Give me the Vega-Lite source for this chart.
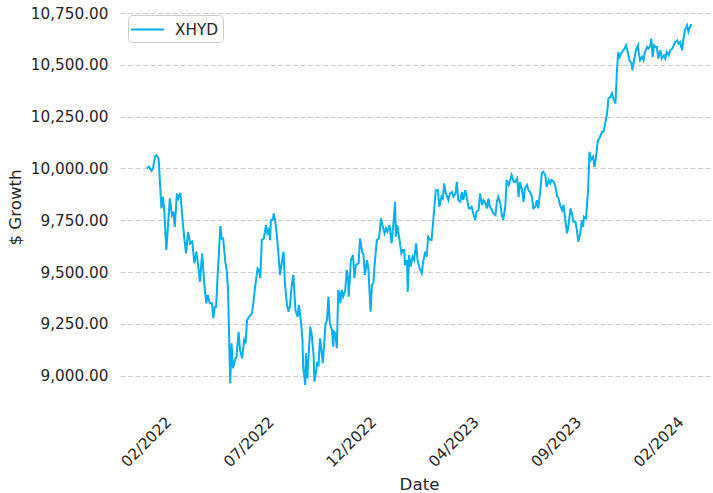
{
  "$schema": "https://vega.github.io/schema/vega-lite/v6.json",
  "width": 593,
  "height": 396,
  "autosize": {"type": "none"},
  "padding": {"left": 120, "top": 7, "right": 0, "bottom": 90},
  "background": "white",
  "config": {"view": {"stroke": null}, "font": "DejaVu Sans"},
  "data": {"values": [
    {"date": "2022-02-15", "value": 10000}, {"date": "2022-02-18", "value": 10008}, {"date": "2022-02-22", "value": 9988}, {"date": "2022-02-24", "value": 10000},
    {"date": "2022-02-27", "value": 10059}, {"date": "2022-03-01", "value": 10064}, {"date": "2022-03-04", "value": 10048}, {"date": "2022-03-06", "value": 9928},
    {"date": "2022-03-08", "value": 9807}, {"date": "2022-03-10", "value": 9863}, {"date": "2022-03-12", "value": 9799}, {"date": "2022-03-15", "value": 9606},
    {"date": "2022-03-17", "value": 9702}, {"date": "2022-03-20", "value": 9855}, {"date": "2022-03-23", "value": 9775}, {"date": "2022-03-25", "value": 9791},
    {"date": "2022-03-27", "value": 9718}, {"date": "2022-03-30", "value": 9879}, {"date": "2022-04-01", "value": 9855}, {"date": "2022-04-04", "value": 9882},
    {"date": "2022-04-08", "value": 9718}, {"date": "2022-04-12", "value": 9590}, {"date": "2022-04-15", "value": 9694}, {"date": "2022-04-18", "value": 9638},
    {"date": "2022-04-21", "value": 9646}, {"date": "2022-04-24", "value": 9542}, {"date": "2022-04-27", "value": 9598}, {"date": "2022-04-30", "value": 9510},
    {"date": "2022-05-02", "value": 9453}, {"date": "2022-05-05", "value": 9590}, {"date": "2022-05-08", "value": 9445}, {"date": "2022-05-11", "value": 9349},
    {"date": "2022-05-13", "value": 9389}, {"date": "2022-05-16", "value": 9349}, {"date": "2022-05-19", "value": 9349}, {"date": "2022-05-21", "value": 9277},
    {"date": "2022-05-23", "value": 9333}, {"date": "2022-05-25", "value": 9333}, {"date": "2022-05-27", "value": 9477}, {"date": "2022-05-31", "value": 9722},
    {"date": "2022-06-02", "value": 9660}, {"date": "2022-06-04", "value": 9662}, {"date": "2022-06-07", "value": 9550}, {"date": "2022-06-09", "value": 9510},
    {"date": "2022-06-11", "value": 9413}, {"date": "2022-06-14", "value": 8963}, {"date": "2022-06-16", "value": 9156}, {"date": "2022-06-18", "value": 9036},
    {"date": "2022-06-21", "value": 9076}, {"date": "2022-06-23", "value": 9092}, {"date": "2022-06-26", "value": 9212}, {"date": "2022-06-28", "value": 9124},
    {"date": "2022-07-01", "value": 9084}, {"date": "2022-07-04", "value": 9172}, {"date": "2022-07-06", "value": 9156}, {"date": "2022-07-08", "value": 9268},
    {"date": "2022-07-11", "value": 9284}, {"date": "2022-07-15", "value": 9301}, {"date": "2022-07-17", "value": 9349}, {"date": "2022-07-19", "value": 9413},
    {"date": "2022-07-23", "value": 9518}, {"date": "2022-07-25", "value": 9510}, {"date": "2022-07-27", "value": 9470}, {"date": "2022-07-29", "value": 9654},
    {"date": "2022-08-01", "value": 9662}, {"date": "2022-08-04", "value": 9727}, {"date": "2022-08-06", "value": 9687}, {"date": "2022-08-08", "value": 9703},
    {"date": "2022-08-10", "value": 9654}, {"date": "2022-08-11", "value": 9751}, {"date": "2022-08-14", "value": 9754}, {"date": "2022-08-15", "value": 9783},
    {"date": "2022-08-17", "value": 9751}, {"date": "2022-08-20", "value": 9662}, {"date": "2022-08-24", "value": 9486}, {"date": "2022-08-26", "value": 9534},
    {"date": "2022-08-29", "value": 9598}, {"date": "2022-08-31", "value": 9445}, {"date": "2022-09-03", "value": 9341}, {"date": "2022-09-05", "value": 9309},
    {"date": "2022-09-07", "value": 9333}, {"date": "2022-09-10", "value": 9445}, {"date": "2022-09-12", "value": 9486}, {"date": "2022-09-15", "value": 9317},
    {"date": "2022-09-18", "value": 9284}, {"date": "2022-09-20", "value": 9341}, {"date": "2022-09-23", "value": 9253}, {"date": "2022-09-25", "value": 9172},
    {"date": "2022-09-26", "value": 9043}, {"date": "2022-09-29", "value": 8955}, {"date": "2022-09-30", "value": 9108}, {"date": "2022-10-02", "value": 8987},
    {"date": "2022-10-06", "value": 9236}, {"date": "2022-10-08", "value": 9204}, {"date": "2022-10-11", "value": 9092}, {"date": "2022-10-12", "value": 8971},
    {"date": "2022-10-14", "value": 9011}, {"date": "2022-10-16", "value": 9060}, {"date": "2022-10-18", "value": 9052}, {"date": "2022-10-20", "value": 9180},
    {"date": "2022-10-22", "value": 9124}, {"date": "2022-10-24", "value": 9060}, {"date": "2022-10-26", "value": 9156}, {"date": "2022-10-28", "value": 9253},
    {"date": "2022-10-30", "value": 9268}, {"date": "2022-11-01", "value": 9381}, {"date": "2022-11-03", "value": 9253}, {"date": "2022-11-06", "value": 9220},
    {"date": "2022-11-08", "value": 9140}, {"date": "2022-11-09", "value": 9212}, {"date": "2022-11-11", "value": 9204}, {"date": "2022-11-13", "value": 9132},
    {"date": "2022-11-15", "value": 9413}, {"date": "2022-11-17", "value": 9397}, {"date": "2022-11-18", "value": 9349}, {"date": "2022-11-20", "value": 9413},
    {"date": "2022-11-22", "value": 9381}, {"date": "2022-11-25", "value": 9413}, {"date": "2022-11-27", "value": 9510}, {"date": "2022-11-29", "value": 9470},
    {"date": "2022-11-30", "value": 9381}, {"date": "2022-12-03", "value": 9558}, {"date": "2022-12-06", "value": 9582}, {"date": "2022-12-08", "value": 9470},
    {"date": "2022-12-10", "value": 9534}, {"date": "2022-12-14", "value": 9542}, {"date": "2022-12-16", "value": 9662}, {"date": "2022-12-19", "value": 9598},
    {"date": "2022-12-21", "value": 9582}, {"date": "2022-12-23", "value": 9486}, {"date": "2022-12-26", "value": 9558}, {"date": "2022-12-28", "value": 9510},
    {"date": "2022-12-31", "value": 9309}, {"date": "2023-01-02", "value": 9437}, {"date": "2023-01-04", "value": 9445}, {"date": "2023-01-06", "value": 9542},
    {"date": "2023-01-09", "value": 9654}, {"date": "2023-01-12", "value": 9662}, {"date": "2023-01-15", "value": 9759}, {"date": "2023-01-17", "value": 9727},
    {"date": "2023-01-20", "value": 9687}, {"date": "2023-01-22", "value": 9711}, {"date": "2023-01-24", "value": 9694}, {"date": "2023-01-27", "value": 9727},
    {"date": "2023-01-30", "value": 9638}, {"date": "2023-02-02", "value": 9751}, {"date": "2023-02-04", "value": 9839}, {"date": "2023-02-05", "value": 9670},
    {"date": "2023-02-07", "value": 9727}, {"date": "2023-02-10", "value": 9662}, {"date": "2023-02-13", "value": 9590}, {"date": "2023-02-15", "value": 9606},
    {"date": "2023-02-17", "value": 9606}, {"date": "2023-02-18", "value": 9534}, {"date": "2023-02-21", "value": 9558}, {"date": "2023-02-22", "value": 9405},
    {"date": "2023-02-24", "value": 9582}, {"date": "2023-02-26", "value": 9526}, {"date": "2023-03-01", "value": 9574}, {"date": "2023-03-03", "value": 9558},
    {"date": "2023-03-06", "value": 9638}, {"date": "2023-03-08", "value": 9558}, {"date": "2023-03-11", "value": 9518}, {"date": "2023-03-14", "value": 9494},
    {"date": "2023-03-16", "value": 9550}, {"date": "2023-03-19", "value": 9598}, {"date": "2023-03-21", "value": 9574}, {"date": "2023-03-23", "value": 9670},
    {"date": "2023-03-26", "value": 9654}, {"date": "2023-03-28", "value": 9654}, {"date": "2023-04-01", "value": 9815}, {"date": "2023-04-03", "value": 9895},
    {"date": "2023-04-06", "value": 9895}, {"date": "2023-04-08", "value": 9815}, {"date": "2023-04-11", "value": 9863}, {"date": "2023-04-13", "value": 9855},
    {"date": "2023-04-15", "value": 9928}, {"date": "2023-04-17", "value": 9883}, {"date": "2023-04-21", "value": 9847}, {"date": "2023-04-23", "value": 9879},
    {"date": "2023-04-26", "value": 9887}, {"date": "2023-04-28", "value": 9863}, {"date": "2023-05-01", "value": 9879}, {"date": "2023-05-03", "value": 9935},
    {"date": "2023-05-05", "value": 9847}, {"date": "2023-05-08", "value": 9839}, {"date": "2023-05-10", "value": 9887}, {"date": "2023-05-12", "value": 9847},
    {"date": "2023-05-15", "value": 9895}, {"date": "2023-05-17", "value": 9863}, {"date": "2023-05-20", "value": 9807}, {"date": "2023-05-22", "value": 9807},
    {"date": "2023-05-24", "value": 9815}, {"date": "2023-05-27", "value": 9775}, {"date": "2023-05-29", "value": 9751}, {"date": "2023-05-31", "value": 9791},
    {"date": "2023-06-03", "value": 9799}, {"date": "2023-06-05", "value": 9879}, {"date": "2023-06-08", "value": 9823}, {"date": "2023-06-10", "value": 9847},
    {"date": "2023-06-12", "value": 9839}, {"date": "2023-06-15", "value": 9807}, {"date": "2023-06-17", "value": 9855}, {"date": "2023-06-19", "value": 9815},
    {"date": "2023-06-22", "value": 9799}, {"date": "2023-06-24", "value": 9783}, {"date": "2023-06-27", "value": 9775}, {"date": "2023-06-29", "value": 9839},
    {"date": "2023-07-01", "value": 9863}, {"date": "2023-07-04", "value": 9831}, {"date": "2023-07-06", "value": 9775}, {"date": "2023-07-08", "value": 9751},
    {"date": "2023-07-11", "value": 9815}, {"date": "2023-07-13", "value": 9944}, {"date": "2023-07-16", "value": 9920}, {"date": "2023-07-18", "value": 9944},
    {"date": "2023-07-20", "value": 9968}, {"date": "2023-07-23", "value": 9935}, {"date": "2023-07-25", "value": 9935}, {"date": "2023-07-28", "value": 9952},
    {"date": "2023-07-30", "value": 9863}, {"date": "2023-08-01", "value": 9935}, {"date": "2023-08-04", "value": 9895}, {"date": "2023-08-06", "value": 9839},
    {"date": "2023-08-08", "value": 9904}, {"date": "2023-08-11", "value": 9920}, {"date": "2023-08-13", "value": 9895}, {"date": "2023-08-15", "value": 9887},
    {"date": "2023-08-18", "value": 9863}, {"date": "2023-08-20", "value": 9807}, {"date": "2023-08-23", "value": 9815}, {"date": "2023-08-25", "value": 9847},
    {"date": "2023-08-27", "value": 9807}, {"date": "2023-08-30", "value": 9895}, {"date": "2023-09-01", "value": 9976}, {"date": "2023-09-03", "value": 9984},
    {"date": "2023-09-06", "value": 9968}, {"date": "2023-09-08", "value": 9911}, {"date": "2023-09-11", "value": 9944}, {"date": "2023-09-13", "value": 9928},
    {"date": "2023-09-15", "value": 9944}, {"date": "2023-09-18", "value": 9935}, {"date": "2023-09-20", "value": 9920}, {"date": "2023-09-23", "value": 9863},
    {"date": "2023-09-25", "value": 9855}, {"date": "2023-09-27", "value": 9823}, {"date": "2023-09-30", "value": 9799}, {"date": "2023-10-02", "value": 9823},
    {"date": "2023-10-04", "value": 9767}, {"date": "2023-10-07", "value": 9687}, {"date": "2023-10-09", "value": 9727}, {"date": "2023-10-12", "value": 9807},
    {"date": "2023-10-14", "value": 9783}, {"date": "2023-10-16", "value": 9743}, {"date": "2023-10-19", "value": 9743}, {"date": "2023-10-21", "value": 9703},
    {"date": "2023-10-23", "value": 9646}, {"date": "2023-10-26", "value": 9687}, {"date": "2023-10-28", "value": 9751}, {"date": "2023-10-30", "value": 9718},
    {"date": "2023-10-31", "value": 9767}, {"date": "2023-11-03", "value": 9759}, {"date": "2023-11-06", "value": 9895}, {"date": "2023-11-08", "value": 10080},
    {"date": "2023-11-10", "value": 10040}, {"date": "2023-11-13", "value": 10056}, {"date": "2023-11-15", "value": 10008}, {"date": "2023-11-17", "value": 10048},
    {"date": "2023-11-20", "value": 10136}, {"date": "2023-11-22", "value": 10145}, {"date": "2023-11-26", "value": 10177}, {"date": "2023-11-28", "value": 10177},
    {"date": "2023-11-30", "value": 10209}, {"date": "2023-12-03", "value": 10265}, {"date": "2023-12-05", "value": 10338}, {"date": "2023-12-08", "value": 10345},
    {"date": "2023-12-10", "value": 10362}, {"date": "2023-12-12", "value": 10338}, {"date": "2023-12-15", "value": 10313}, {"date": "2023-12-17", "value": 10466},
    {"date": "2023-12-19", "value": 10562}, {"date": "2023-12-21", "value": 10538}, {"date": "2023-12-23", "value": 10554}, {"date": "2023-12-26", "value": 10570},
    {"date": "2023-12-28", "value": 10578}, {"date": "2023-12-30", "value": 10594}, {"date": "2024-01-02", "value": 10554}, {"date": "2024-01-04", "value": 10522},
    {"date": "2024-01-07", "value": 10506}, {"date": "2024-01-08", "value": 10474}, {"date": "2024-01-11", "value": 10530}, {"date": "2024-01-13", "value": 10570},
    {"date": "2024-01-16", "value": 10594}, {"date": "2024-01-17", "value": 10562}, {"date": "2024-01-19", "value": 10522}, {"date": "2024-01-22", "value": 10538},
    {"date": "2024-01-24", "value": 10522}, {"date": "2024-01-26", "value": 10562}, {"date": "2024-01-29", "value": 10586}, {"date": "2024-01-31", "value": 10578},
    {"date": "2024-02-03", "value": 10594}, {"date": "2024-02-04", "value": 10627}, {"date": "2024-02-06", "value": 10538}, {"date": "2024-02-08", "value": 10594},
    {"date": "2024-02-10", "value": 10586}, {"date": "2024-02-12", "value": 10586}, {"date": "2024-02-14", "value": 10530}, {"date": "2024-02-17", "value": 10570},
    {"date": "2024-02-19", "value": 10530}, {"date": "2024-02-22", "value": 10546}, {"date": "2024-02-24", "value": 10530}, {"date": "2024-02-26", "value": 10562},
    {"date": "2024-02-29", "value": 10546}, {"date": "2024-03-02", "value": 10570}, {"date": "2024-03-05", "value": 10578}, {"date": "2024-03-07", "value": 10594},
    {"date": "2024-03-09", "value": 10610}, {"date": "2024-03-12", "value": 10618}, {"date": "2024-03-14", "value": 10602}, {"date": "2024-03-16", "value": 10610},
    {"date": "2024-03-19", "value": 10570}, {"date": "2024-03-21", "value": 10627}, {"date": "2024-03-23", "value": 10667}, {"date": "2024-03-26", "value": 10691},
    {"date": "2024-03-28", "value": 10659}, {"date": "2024-03-31", "value": 10691}, {"date": "2024-04-02", "value": 10694}
  ]},
  "mark": {"type": "line", "strokeWidth": 2, "clip": true},
  "encoding": {
    "x": {
      "field": "date",
      "type": "temporal",
      "scale": {"type": "utc", "domain": [{"year": 2022, "month": 1, "date": 8, "utc": true}, {"year": 2024, "month": 5, "date": 2, "utc": true}]},
      "axis": {
        "title": "Date",
        "values": [
          {"year": 2022, "month": 2, "date": 14, "utc": true},
          {"year": 2022, "month": 7, "date": 10, "utc": true},
          {"year": 2022, "month": 12, "date": 3, "utc": true},
          {"year": 2023, "month": 4, "date": 28, "utc": true},
          {"year": 2023, "month": 9, "date": 21, "utc": true},
          {"year": 2024, "month": 2, "date": 14, "utc": true}
        ],
        "labelExpr": "utcFormat(datum.value, '%m/%Y')",
        "labelAngle": -45,
        "labelAlign": "center",
        "labelBaseline": "middle",
        "labelPadding": 38.5,
        "labelOverlap": false,
        "labelFlush": false,
        "ticks": false,
        "tickSize": 0,
        "domain": false,
        "grid": false,
        "labelFont": "DejaVu Sans",
        "labelFontSize": 15.28,
        "labelColor": "#262626",
        "titleFont": "DejaVu Sans",
        "titleFontSize": 16.67,
        "titleFontWeight": "normal",
        "titleColor": "#262626",
        "titleX": 299,
        "titleY": 86,
        "titleAlign": "center",
        "titleBaseline": "alphabetic"
      }
    },
    "y": {
      "field": "value",
      "type": "quantitative",
      "scale": {"domain": [8868, 10779], "nice": false, "zero": false},
      "axis": {
        "title": "$ Growth",
        "values": [9000, 9250, 9500, 9750, 10000, 10250, 10500, 10750],
        "format": ",.2f",
        "grid": true,
        "gridColor": "#cccccc",
        "gridDash": [5, 2.5],
        "gridWidth": 1,
        "ticks": false,
        "tickSize": 0,
        "domain": false,
        "labelPadding": 12,
        "labelFont": "DejaVu Sans",
        "labelFontSize": 15.28,
        "labelColor": "#262626",
        "titleFont": "DejaVu Sans",
        "titleFontSize": 16.67,
        "titleFontWeight": "normal",
        "titleColor": "#262626",
        "titleX": -105,
        "titleY": 200,
        "titleAngle": -90,
        "titleAlign": "center",
        "titleBaseline": "middle"
      }
    },
    "color": {
      "datum": "XHYD",
      "type": "nominal",
      "scale": {"range": ["#00B0F0"]},
      "legend": {
        "title": null,
        "orient": "none",
        "legendX": 8,
        "legendY": 8,
        "symbolType": "M-1.75,0H1.75",
        "symbolSize": 361,
        "symbolStrokeWidth": 2,
        "symbolOffset": 5,
        "labelFont": "DejaVu Sans",
        "labelFontSize": 15.28,
        "labelColor": "#262626",
        "labelOffset": 17,
        "padding": 4,
        "strokeColor": "#cccccc",
        "fillColor": "rgba(255,255,255,0.8)",
        "cornerRadius": 4
      }
    }
  }
}
